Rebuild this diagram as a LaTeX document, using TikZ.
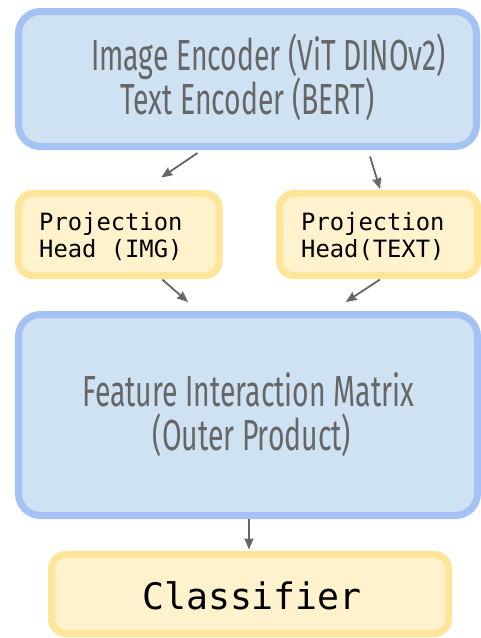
\documentclass[tikz,border=0pt]{standalone}
\usepackage{fontspec}
\usetikzlibrary{arrows.meta,calc}
\newfontfamily\condfont{Fira Sans}[FakeStretch=0.652]
\newfontfamily\monofont{DejaVu Sans Mono}
\definecolor{blueborder}{HTML}{A4C2F4}
\definecolor{bluefill}{HTML}{CFE2F3}
\definecolor{yelborder}{HTML}{FFE599}
\definecolor{yelfill}{HTML}{FFF2CC}
\definecolor{txtgray}{HTML}{666666}
\tikzset{
  bluebox/.style={draw=blueborder,fill=bluefill,line width=7pt,rounded corners=22pt,inner sep=0pt},
  yelbox/.style={draw=yelborder,fill=yelfill,line width=7pt,rounded corners=14pt,inner sep=0pt},
  condtxt/.style={anchor=base,inner sep=0pt,text=txtgray,font=\condfont\fontsize{43.5}{44}\selectfont},
  monotxt/.style={anchor=base west,inner sep=0pt,text=black,font=\monofont\fontsize{23.8}{24}\selectfont},
  clstxt/.style={anchor=base,inner sep=0pt,text=black,font=\monofont\fontsize{36.5}{37}\selectfont},
  arr/.style={draw=txtgray,line width=1.8pt,-{Stealth[length=11pt,width=9pt,inset=1pt]}}
}
\begin{document}
\begin{tikzpicture}[x=1pt,y=-1pt]
\useasboundingbox (0,0) rectangle (481,638);
% boxes
\node[bluebox,minimum width=458pt,minimum height=135pt] (top) at (247.5,79) {};
\node[yelbox,minimum width=200.6pt,minimum height=82pt] (pimg) at (118.8,234.5) {};
\node[yelbox,minimum width=198pt,minimum height=82pt] (ptxt) at (378.5,234.5) {};
\node[bluebox,minimum width=459pt,minimum height=201pt] (feat) at (248,415) {};
\node[yelbox,minimum width=397pt,minimum height=79pt] (cls) at (250,594) {};
% texts
\node[condtxt] (t1) at (268.5,70.7) {Image Encoder (ViT DINOv2)};
\node[condtxt] (t2) at (247.5,114) {Text Encoder (BERT)};
\node[monotxt] (pi1) at (39,230) {Projection};
\node[monotxt] (pi2) at (39,257.7) {Head (IMG)};
\node[monotxt] (pt1) at (301,230) {Projection};
\node[monotxt] (pt2) at (301,257.7) {Head(TEXT)};
\node[condtxt] (f1) at (248,406) {Feature Interaction Matrix};
\node[condtxt] (f2) at (252,450) {(Outer Product)};
\node[clstxt] (c1) at (252,609) {Classifier};
% arrows
\draw[arr] ($(top.south)+(-50,3)$) -- ($(pimg.north)+(42.5,-12.5)$);
\draw[arr] ($(top.south)+(122.5,6.5)$) -- ($(ptxt.north)+(1.5,-1)$);
\draw[arr] ($(pimg.south)+(43.5,0.5)$) -- ($(feat.north)+(-60,-9)$);
\draw[arr] ($(ptxt.south)+(1.5,0.5)$) -- ($(feat.north)+(97.7,-9)$);
\draw[arr] ($(feat.south)+(1,0)$) -- ($(cls.north)+(-1,-1.5)$);
\end{tikzpicture}
\end{document}
